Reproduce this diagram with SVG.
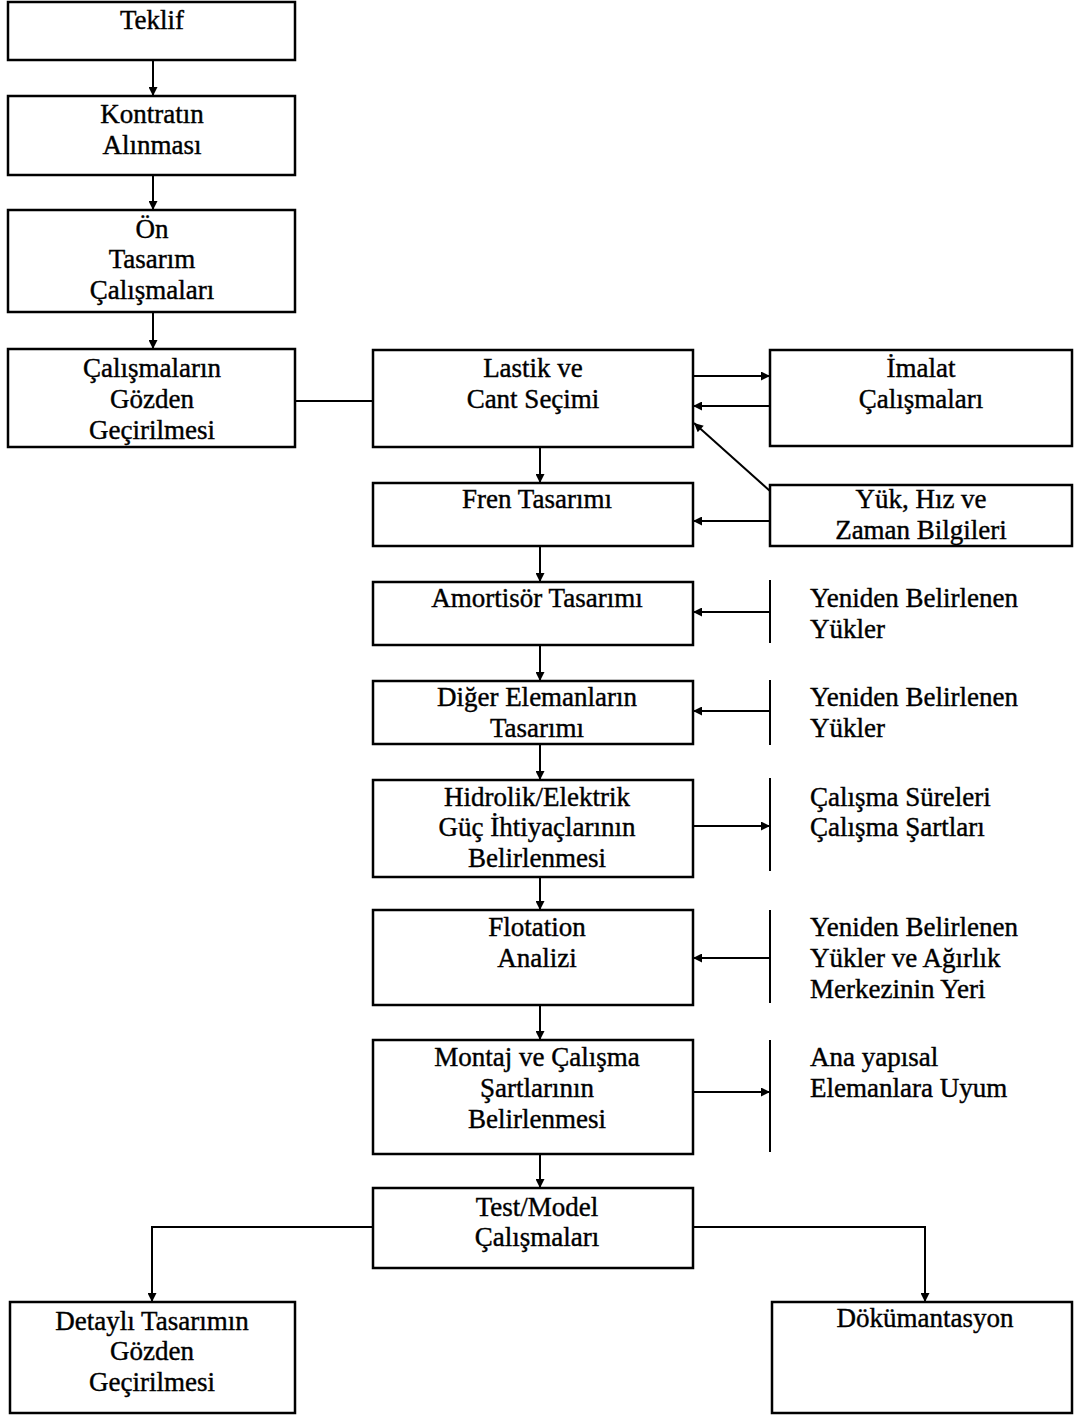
<svg xmlns="http://www.w3.org/2000/svg" width="1075" height="1417" viewBox="0 0 1075 1417">
<style>
.box{fill:#fff;stroke:#000;stroke-width:2.5}
.t{font-family:"Liberation Serif","Times New Roman",serif;font-size:27px;fill:#000;stroke:#000;stroke-width:0.4;text-anchor:middle}
.l{text-anchor:start}
.c{fill:none;stroke:#000;stroke-width:2}
</style>
<defs>
<marker id="ah" viewBox="0 0 10 10" refX="10" refY="5" markerWidth="11" markerHeight="9" markerUnits="userSpaceOnUse" orient="auto">
<path d="M0,0 L10,5 L0,10 z" fill="#000"/>
</marker>
</defs>
<rect width="1075" height="1417" fill="#fff"/>
<g id="connectors">
<line class="c" x1="153" y1="60" x2="153" y2="96" marker-end="url(#ah)"/>
<line class="c" x1="153" y1="175" x2="153" y2="210" marker-end="url(#ah)"/>
<line class="c" x1="153" y1="312" x2="153" y2="349" marker-end="url(#ah)"/>
<line class="c" x1="295" y1="401" x2="373" y2="401"/>
<line class="c" x1="693" y1="376" x2="770" y2="376" marker-end="url(#ah)"/>
<line class="c" x1="770" y1="406" x2="693" y2="406" marker-end="url(#ah)"/>
<line class="c" x1="770" y1="491" x2="694" y2="423" marker-end="url(#ah)"/>
<line class="c" x1="770" y1="521" x2="693" y2="521" marker-end="url(#ah)"/>
<line class="c" x1="540" y1="447" x2="540" y2="483" marker-end="url(#ah)"/>
<line class="c" x1="540" y1="546" x2="540" y2="582" marker-end="url(#ah)"/>
<line class="c" x1="540" y1="645" x2="540" y2="681" marker-end="url(#ah)"/>
<line class="c" x1="540" y1="744" x2="540" y2="780" marker-end="url(#ah)"/>
<line class="c" x1="540" y1="877" x2="540" y2="910" marker-end="url(#ah)"/>
<line class="c" x1="540" y1="1005" x2="540" y2="1040" marker-end="url(#ah)"/>
<line class="c" x1="540" y1="1154" x2="540" y2="1188" marker-end="url(#ah)"/>
<line class="c" x1="770" y1="580" x2="770" y2="643"/>
<line class="c" x1="770" y1="612" x2="693" y2="612" marker-end="url(#ah)"/>
<line class="c" x1="770" y1="680" x2="770" y2="745"/>
<line class="c" x1="770" y1="711" x2="693" y2="711" marker-end="url(#ah)"/>
<line class="c" x1="770" y1="778" x2="770" y2="871"/>
<line class="c" x1="693" y1="826" x2="770" y2="826" marker-end="url(#ah)"/>
<line class="c" x1="770" y1="910" x2="770" y2="1003"/>
<line class="c" x1="770" y1="958" x2="693" y2="958" marker-end="url(#ah)"/>
<line class="c" x1="770" y1="1040" x2="770" y2="1152"/>
<line class="c" x1="693" y1="1092" x2="770" y2="1092" marker-end="url(#ah)"/>
<polyline class="c" points="373,1227 152,1227 152,1302" marker-end="url(#ah)"/>
<polyline class="c" points="693,1227 925,1227 925,1302" marker-end="url(#ah)"/>
</g>
<g id="teklif"><rect class="box" x="8" y="2" width="287" height="58"/><text class="t" x="152" y="29">Teklif</text></g>
<g id="kontrat"><rect class="box" x="8" y="96" width="287" height="79"/><text class="t" x="152" y="123">Kontratın</text><text class="t" x="152" y="154">Alınması</text></g>
<g id="on-tasarim"><rect class="box" x="8" y="210" width="287" height="102"/><text class="t" x="152" y="238">Ön</text><text class="t" x="152" y="268">Tasarım</text><text class="t" x="152" y="299">Çalışmaları</text></g>
<g id="gozden"><rect class="box" x="8" y="349" width="287" height="98"/><text class="t" x="152" y="377">Çalışmaların</text><text class="t" x="152" y="408">Gözden</text><text class="t" x="152" y="439">Geçirilmesi</text></g>
<g id="lastik"><rect class="box" x="373" y="350" width="320" height="97"/><text class="t" x="533" y="377">Lastik ve</text><text class="t" x="533" y="408">Cant Seçimi</text></g>
<g id="imalat"><rect class="box" x="770" y="350" width="302" height="96"/><text class="t" x="921" y="377">İmalat</text><text class="t" x="921" y="408">Çalışmaları</text></g>
<g id="yuk"><rect class="box" x="770" y="485" width="302" height="61"/><text class="t" x="921" y="508">Yük, Hız ve</text><text class="t" x="921" y="539">Zaman Bilgileri</text></g>
<g id="fren"><rect class="box" x="373" y="483" width="320" height="63"/><text class="t" x="537" y="508">Fren Tasarımı</text></g>
<g id="amortisor"><rect class="box" x="373" y="582" width="320" height="63"/><text class="t" x="537" y="607">Amortisör Tasarımı</text></g>
<g id="yeniden1"><text class="t l" x="810" y="607">Yeniden Belirlenen</text><text class="t l" x="810" y="638">Yükler</text></g>
<g id="diger"><rect class="box" x="373" y="681" width="320" height="63"/><text class="t" x="537" y="706">Diğer Elemanların</text><text class="t" x="537" y="737">Tasarımı</text></g>
<g id="yeniden2"><text class="t l" x="810" y="706">Yeniden Belirlenen</text><text class="t l" x="810" y="737">Yükler</text></g>
<g id="hidrolik"><rect class="box" x="373" y="780" width="320" height="97"/><text class="t" x="537" y="806">Hidrolik/Elektrik</text><text class="t" x="537" y="836">Güç İhtiyaçlarının</text><text class="t" x="537" y="867">Belirlenmesi</text></g>
<g id="calisma-sureleri"><text class="t l" x="810" y="806">Çalışma Süreleri</text><text class="t l" x="810" y="836">Çalışma Şartları</text></g>
<g id="flotation"><rect class="box" x="373" y="910" width="320" height="95"/><text class="t" x="537" y="936">Flotation</text><text class="t" x="537" y="967">Analizi</text></g>
<g id="yeniden3"><text class="t l" x="810" y="936">Yeniden Belirlenen</text><text class="t l" x="810" y="967">Yükler ve Ağırlık</text><text class="t l" x="810" y="998">Merkezinin Yeri</text></g>
<g id="montaj"><rect class="box" x="373" y="1040" width="320" height="114"/><text class="t" x="537" y="1066">Montaj ve Çalışma</text><text class="t" x="537" y="1097">Şartlarının</text><text class="t" x="537" y="1128">Belirlenmesi</text></g>
<g id="ana-yapisal"><text class="t l" x="810" y="1066">Ana yapısal</text><text class="t l" x="810" y="1097">Elemanlara Uyum</text></g>
<g id="test"><rect class="box" x="373" y="1188" width="320" height="80"/><text class="t" x="537" y="1216">Test/Model</text><text class="t" x="537" y="1246">Çalışmaları</text></g>
<g id="detayli"><rect class="box" x="10" y="1302" width="285" height="111"/><text class="t" x="152" y="1330">Detaylı Tasarımın</text><text class="t" x="152" y="1360">Gözden</text><text class="t" x="152" y="1391">Geçirilmesi</text></g>
<g id="dokumantasyon"><rect class="box" x="772" y="1302" width="300" height="111"/><text class="t" x="925" y="1327">Dökümantasyon</text></g>
</svg>
